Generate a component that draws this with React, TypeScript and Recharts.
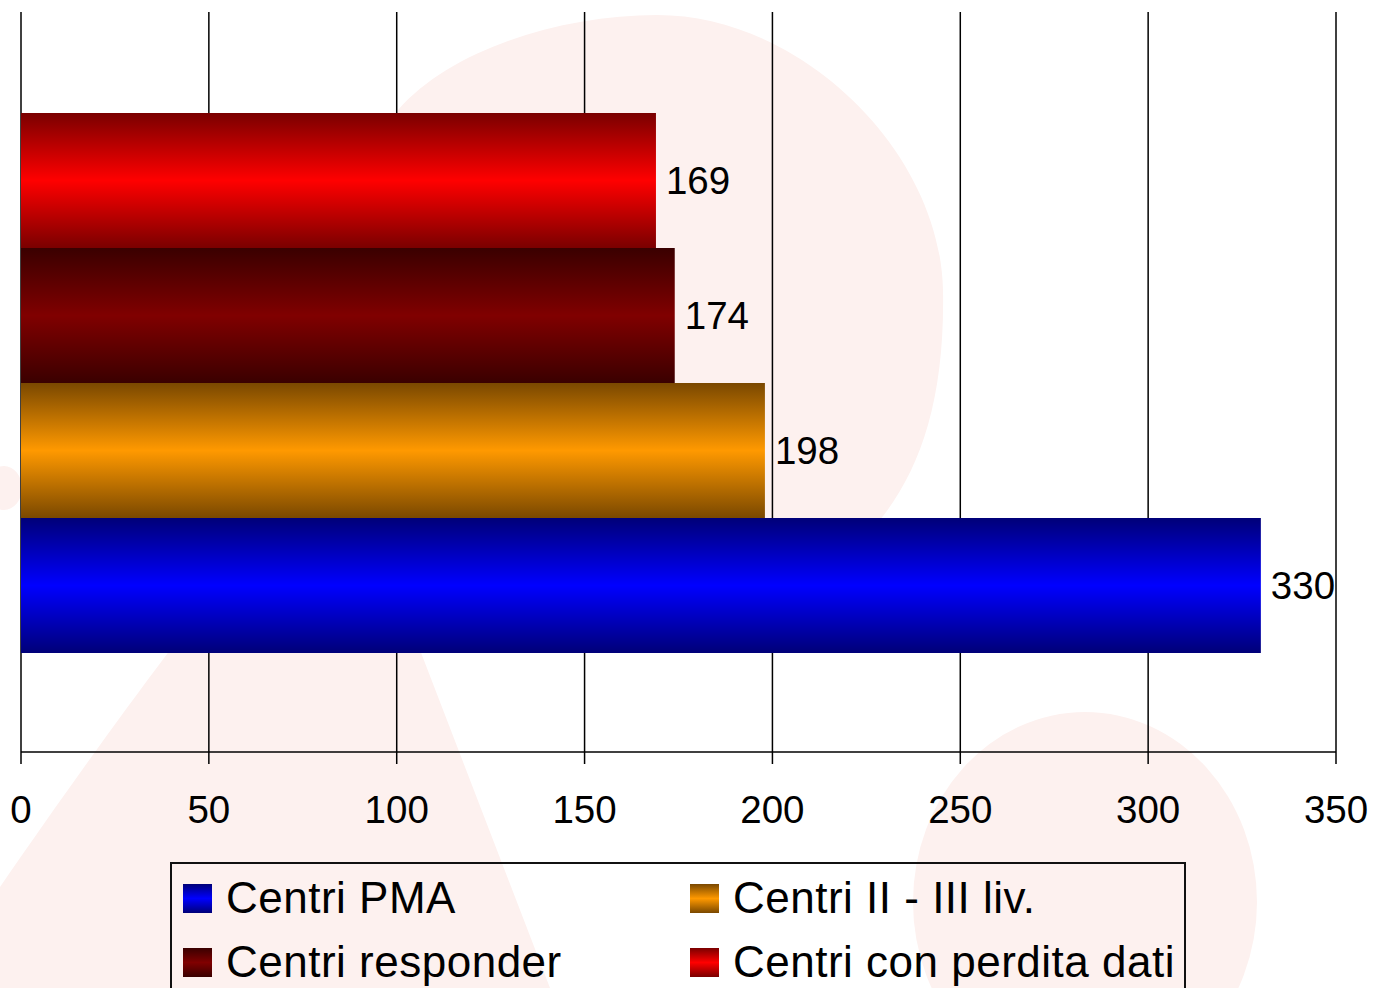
import React from "react";
import {
  BarChart,
  Bar,
  XAxis,
  YAxis,
  CartesianGrid,
  LabelList,
} from "recharts";

// values
const categories = ["Centri"];
const perditaDati = [169];
const responder = [174];
const centriIIIII = [198];
const centriPMA = [330];
const xTicks = [0, 50, 100, 150, 200, 250, 300, 350];

const SERIES = [
  { key: "perdita", name: "Centri con perdita dati", values: perditaDati, edge: "#7a0000", mid: "#ff0000" },
  { key: "responder", name: "Centri responder", values: responder, edge: "#3a0000", mid: "#800000" },
  { key: "liv", name: "Centri II - III liv.", values: centriIIIII, edge: "#7a4800", mid: "#ff9900" },
  { key: "pma", name: "Centri PMA", values: centriPMA, edge: "#000078", mid: "#0000ff" },
];

// legend order as in the picture (two columns)
const LEGEND_ORDER = ["pma", "liv", "responder", "perdita"];

const data = categories.map((name, i) => {
  const row: any = { name };
  SERIES.forEach((s) => {
    row[s.key] = s.values[i];
  });
  return row;
});

const FONT = "'Liberation Sans', Arial, sans-serif";
const PINK = "#fdf1ef";

function Backdrop() {
  return (
    <svg
      width={1374}
      height={988}
      style={{ position: "absolute", left: 0, top: 0 }}
    >
      <path
        d="M 657 15 C 800 15, 940 150, 943 290 C 945 400, 920 470, 880 520 C 800 600, 600 640, 420 650 L 550 988 L 0 988 L 0 887 C 60 800, 110 730, 170 650 C 260 500, 330 250, 398 110 C 450 50, 560 15, 657 15 Z"
        fill={PINK}
      />
      <ellipse cx={1085} cy={902} rx={172} ry={190} fill={PINK} />
      <ellipse cx={4} cy={488} rx={18} ry={22} fill={PINK} />
    </svg>
  );
}

function ChartLegend() {
  const items = LEGEND_ORDER.map((k) => SERIES.find((s) => s.key === k)!);
  return (
    <div
      style={{
        position: "absolute",
        left: 170,
        top: 862,
        width: 1016,
        height: 150,
        border: "2px solid #111",
        boxSizing: "border-box",
        fontFamily: FONT,
        fontSize: 44,
        letterSpacing: 0.5,
        color: "#000",
      }}
    >
      {items.map((s, i) => {
        const col = i % 2;
        const rowIdx = Math.floor(i / 2);
        return (
          <div
            key={s.key}
            style={{
              position: "absolute",
              left: col === 0 ? 11 : 518,
              top: 10 + rowIdx * 64,
              display: "flex",
              alignItems: "center",
              whiteSpace: "nowrap",
              lineHeight: "48px",
            }}
          >
            <span
              style={{
                display: "inline-block",
                width: 29,
                height: 29,
                marginRight: 14,
                background: `linear-gradient(to bottom, ${s.edge}, ${s.mid} 50%, ${s.edge})`,
              }}
            />
            <span>{s.name}</span>
          </div>
        );
      })}
    </div>
  );
}

export default function App() {
  return (
    <div
      style={{
        position: "absolute",
        left: 0,
        top: 0,
        width: 1374,
        height: 988,
        overflow: "hidden",
        background: "#fff",
      }}
    >
      <Backdrop />
      <div style={{ position: "absolute", left: 0, top: 0 }}>
        <BarChart
          width={1374}
          height={988}
          data={data}
          layout="vertical"
          margin={{ top: 12, right: 38, bottom: 176, left: 21 }}
          barCategoryGap={101}
          barGap={0}
        >
          <defs>
            {SERIES.map((s) => (
              <linearGradient key={s.key} id={`grad-${s.key}`} x1="0" y1="0" x2="0" y2="1">
                <stop offset="0%" stopColor={s.edge} />
                <stop offset="50%" stopColor={s.mid} />
                <stop offset="100%" stopColor={s.edge} />
              </linearGradient>
            ))}
          </defs>
          <CartesianGrid
            horizontal={false}
            vertical={true}
            stroke="#000"
            strokeWidth={1.5}
          />
          <XAxis
            type="number"
            domain={[0, 350]}
            ticks={xTicks}
            interval={0}
            height={60}
            tickSize={12}
            tickMargin={32}
            axisLine={{ stroke: "#000", strokeWidth: 1.5 }}
            tickLine={{ stroke: "#000", strokeWidth: 1.5 }}
            tick={{ fill: "#000", fontSize: 38.5, fontFamily: FONT }}
          />
          <YAxis type="category" dataKey="name" hide />
          {SERIES.map((s) => (
            <Bar
              key={s.key}
              dataKey={s.key}
              name={s.name}
              fill={`url(#grad-${s.key})`}
              isAnimationActive={false}
            >
              <LabelList
                dataKey={s.key}
                position="right"
                offset={10}
                fill="#000"
                fontSize={38.5}
                fontFamily={FONT}
              />
            </Bar>
          ))}
        </BarChart>
      </div>
      <ChartLegend />
    </div>
  );
}
